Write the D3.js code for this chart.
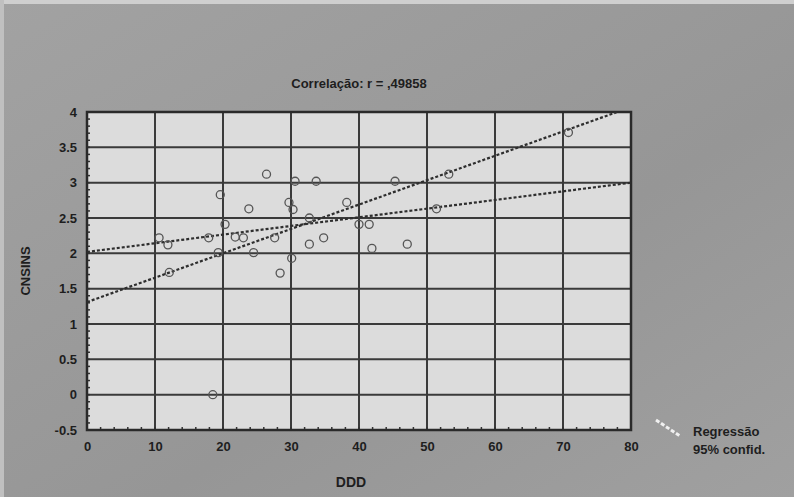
<!DOCTYPE html>
<html><head><meta charset="utf-8">
<script src="https://cdn.jsdelivr.net/npm/d3@7"></script>
<style>
html,body{margin:0;padding:0;background:#9a9a9a;}
svg{display:block;}
text{font-family:"Liberation Sans",Arial,sans-serif;fill:#1e1e1e;}
</style></head>
<body>
<svg id="chart" width="794" height="497"></svg>
<script>
const titleText = "Correlação: r = ,49858";
const xLabel = "DDD";
const yLabel = "CNSINS";
const xTicks = [0,10,20,30,40,50,60,70,80];
const yTicks = [-0.5,0,0.5,1,1.5,2,2.5,3,3.5,4];
const ddd = [10.6,11.9,12.1,17.9,18.5,19.3,19.6,20.3,21.8,23.0,23.8,24.5,26.4,27.6,28.4,29.7,30.1,30.3,30.6,32.7,32.7,33.7,34.8,38.2,40.0,41.5,41.9,45.3,47.1,51.4,53.2,70.8];
const cnsins = [2.22,2.12,1.73,2.22,0.0,2.01,2.83,2.41,2.23,2.22,2.63,2.01,3.12,2.22,1.72,2.72,1.93,2.62,3.02,2.50,2.13,3.02,2.22,2.72,2.41,2.41,2.07,3.02,2.13,2.63,3.12,3.71];
const lineA = [[0,2.02],[80,3.0]];
const lineB = [[0,1.31],[80,4.07]];
const legendLabels = ["Regressão","95% confid."];

const svg = d3.select("#chart");
const W=794,H=497;
const L=87,R=631,T=112,B=430;

const defs = svg.append("defs");
const g1 = defs.append("linearGradient").attr("id","bg").attr("x1",0).attr("y1",0).attr("x2",1).attr("y2",1);
g1.append("stop").attr("offset","0%").attr("stop-color","#a2a2a2");
g1.append("stop").attr("offset","60%").attr("stop-color","#969696");
g1.append("stop").attr("offset","100%").attr("stop-color","#a0a0a0");
svg.append("rect").attr("width",W).attr("height",H).attr("fill","url(#bg)");
svg.append("rect").attr("width",W).attr("height",4).attr("fill","#cfcfcf");
svg.append("rect").attr("width",4).attr("height",H).attr("fill","#c0c0c0");

const x = d3.scaleLinear().domain([0,80]).range([L,R]);
const y = d3.scaleLinear().domain([-0.5,4]).range([B,T]);

svg.append("rect").attr("x",L).attr("y",T).attr("width",R-L).attr("height",B-T).attr("fill","#dcdcdc");

svg.append("g").selectAll("line").data(xTicks.slice(1,-1)).join("line")
  .attr("x1",d=>x(d)).attr("x2",d=>x(d)).attr("y1",T).attr("y2",B)
  .attr("stroke","#3a3a3a").attr("stroke-width",2);
svg.append("g").selectAll("line").data(yTicks.slice(1,-1)).join("line")
  .attr("y1",d=>y(d)).attr("y2",d=>y(d)).attr("x1",L).attr("x2",R)
  .attr("stroke","#3a3a3a").attr("stroke-width",2);

const xMinor = d3.range(0,80.01,2);
svg.append("g").selectAll("line").data(xMinor).join("line")
  .attr("x1",d=>x(d)).attr("x2",d=>x(d)).attr("y1",B-3).attr("y2",B)
  .attr("stroke","#333").attr("stroke-width",1.5);
const yMinor = d3.range(-0.5,4.01,0.1);
svg.append("g").selectAll("line").data(yMinor).join("line")
  .attr("y1",d=>y(d)).attr("y2",d=>y(d)).attr("x1",L).attr("x2",L+3)
  .attr("stroke","#333").attr("stroke-width",1.5);

svg.append("rect").attr("x",L).attr("y",T).attr("width",R-L).attr("height",B-T)
  .attr("fill","none").attr("stroke","#2a2a2a").attr("stroke-width",2.5);

const xAxis = d3.axisBottom(x).tickValues(xTicks).tickSize(0).tickPadding(12).tickFormat(d3.format("d"));
const gx = svg.append("g").attr("transform",`translate(0,${B})`).call(xAxis);
gx.select(".domain").remove();
gx.selectAll("text").style("font-size","13px").style("font-weight","bold").attr("fill","#262626");
const yAxis = d3.axisLeft(y).tickValues(yTicks).tickSize(0).tickPadding(10).tickFormat(d=>String(d));
const gy = svg.append("g").attr("transform",`translate(${L},0)`).call(yAxis);
gy.select(".domain").remove();
gy.selectAll("text").style("font-size","13px").style("font-weight","bold").attr("fill","#262626");

defs.append("clipPath").attr("id","clip").append("rect").attr("x",L).attr("y",T).attr("width",R-L).attr("height",B-T);

const lineGen = d3.line().x(d=>x(d[0])).y(d=>y(d[1]));
const pg = svg.append("g").attr("clip-path","url(#clip)");
[lineA,lineB].forEach(ln=>{
  pg.append("path").attr("d",lineGen(ln)).attr("fill","none")
    .attr("stroke","#2e2e2e").attr("stroke-width",2.2).attr("stroke-dasharray","3,2");
});

pg.append("g").selectAll("circle").data(ddd.map((d,i)=>[d,cnsins[i]])).join("circle")
  .attr("cx",d=>x(d[0])).attr("cy",d=>y(d[1])).attr("r",4)
  .attr("fill","none").attr("stroke","#555").attr("stroke-width",1.3);

svg.append("text").attr("x",(L+R)/2).attr("y",88).attr("text-anchor","middle")
  .style("font-size","13px").style("font-weight","bold").text(titleText);
svg.append("text").attr("x",(L+R)/2-8).attr("y",487).attr("text-anchor","middle")
  .style("font-size","14px").style("font-weight","bold").text(xLabel);
svg.append("text").attr("transform",`translate(30,${(T+B)/2}) rotate(-90)`).attr("text-anchor","middle")
  .style("font-size","13px").style("font-weight","bold").text(yLabel);

svg.append("line").attr("x1",656).attr("y1",420).attr("x2",680).attr("y2",436)
  .attr("stroke","#f0f0f0").attr("stroke-width",3).attr("stroke-dasharray","4,2");
svg.selectAll(".leg").data(legendLabels).join("text").attr("class","leg")
  .attr("x",693).attr("y",(d,i)=>436+i*18)
  .style("font-size","13px").style("font-weight","bold").text(d=>d);
</script>
</body></html>
